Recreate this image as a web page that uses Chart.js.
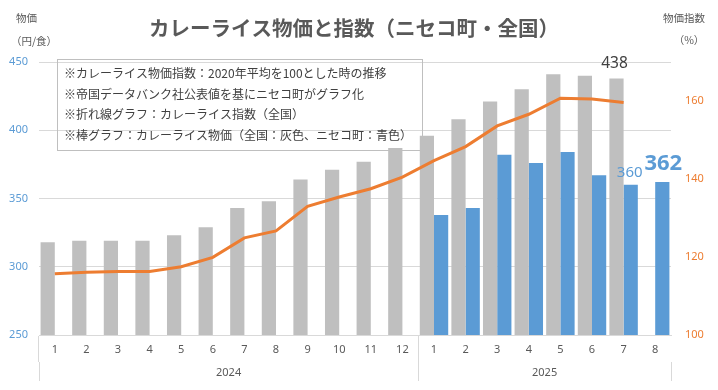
<!DOCTYPE html>
<html><head><meta charset="utf-8">
<script src="https://cdn.jsdelivr.net/npm/chart.js@4/dist/chart.umd.min.js"></script>
<style>html,body{margin:0;padding:0;background:#fff}#wrap{width:718px;height:390px;position:relative}</style>
</head><body><div id="wrap"><canvas id="c" width="718" height="390"></canvas></div>
<script>
// ---- data ----
const months = ['1','2','3','4','5','6','7','8','9','10','11','12','1','2','3','4','5','6','7','8'];
const years = ['2024','2025'];
const monthsPerYear = [12, 8];
const nationalPrice = [318,319,319,319,323,329,343,348,364,371,377,387,396,408,421,430,441,440,438,null];
const nisekoPrice = [null,null,null,null,null,null,null,null,null,null,null,null,338,343,382,376,384,367,360,362];
const curryIndex = [115.7,116.1,116.3,116.3,117.5,119.9,124.9,126.7,133.0,135.4,137.5,140.5,144.7,148.3,153.6,156.6,160.7,160.5,159.6,null];
const priceTicks = [250,300,350,400,450];
const indexTicks = [100,120,140,160];
const titleText = 'カレーライス物価と指数（ニセコ町・全国）';
const notes = [
  '※カレーライス物価指数：2020年平均を100とした時の推移',
  '※帝国データバンク社公表値を基にニセコ町がグラフ化',
  '※折れ線グラフ：カレーライス指数（全国）',
  '※棒グラフ：カレーライス物価（全国：灰色、ニセコ町：青色）'
];
const labelledNational = [18];
const labelledNiseko = [18, 19];

// year group boundaries / centres derived from monthsPerYear
const yearBounds = [-0.5];
const yearCentres = [];
monthsPerYear.forEach((n, i) => {
  const s = yearBounds[i];
  yearBounds.push(s + n);
  yearCentres.push(s + n / 2);
});

const JP = '"Noto Sans CJK JP", "Noto Sans", sans-serif';
const NUM = '"Noto Sans", "Liberation Sans", sans-serif';
const GRID = '#d9d9d9';

const decor = {
  id: 'decor',
  afterDatasetsDraw(chart) {
    const ctx = chart.ctx;
    ctx.save();
    const mN = chart.getDatasetMeta(1), mB = chart.getDatasetMeta(2);
    ctx.textAlign = 'center';
    ctx.textBaseline = 'alphabetic';
    labelledNational.forEach(i => {
      const el = mN.data[i];
      ctx.fillStyle = '#404040';
      ctx.font = '15.5px ' + NUM;
      ctx.fillText(String(nationalPrice[i]), el.x - 2, el.y - 10);
    });
    labelledNiseko.forEach((i, k) => {
      const el = mB.data[i];
      ctx.fillStyle = '#5B9BD5';
      if (k === labelledNiseko.length - 1) {
        ctx.font = 'bold 22px ' + NUM;
        ctx.fillText(String(nisekoPrice[i]), el.x + 1, el.y - 12);
      } else {
        ctx.font = '15px ' + NUM;
        ctx.fillText(String(nisekoPrice[i]), el.x - 1, el.y - 8);
      }
    });
    ctx.restore();
  },
  afterDraw(chart) {
    const ctx = chart.ctx;
    ctx.save();
    ctx.fillStyle = '#595959';
    ctx.font = 'bold 20.5px ' + JP;
    ctx.textAlign = 'center';
    ctx.textBaseline = 'middle';
    ctx.fillText(titleText, 354, 28);
    ctx.font = '10.5px ' + JP;
    ctx.textAlign = 'left';
    ctx.fillText('物価', 16, 18);
    ctx.fillText('（円/食）', 11, 41);
    ctx.fillText('物価指数', 663, 18);
    ctx.textAlign = 'center';
    ctx.fillText('（%）', 689, 40);
    ctx.strokeStyle = '#bfbfbf';
    ctx.lineWidth = 1;
    ctx.strokeRect(57.5, 59.5, 365, 91);
    ctx.fillStyle = '#404040';
    ctx.font = '12px ' + JP;
    ctx.textAlign = 'left';
    ctx.textBaseline = 'middle';
    notes.forEach((t, i) => ctx.fillText(t, 64, 73.5 + i * 20.7));
    ctx.restore();
  }
};

new Chart(document.getElementById('c'), {
  data: {
    labels: months,
    datasets: [
      { type: 'line', label: 'カレーライス指数（全国）', data: curryIndex, xAxisID: 'x', yAxisID: 'y2',
        borderColor: '#ED7D31', borderWidth: 3, pointRadius: 0, tension: 0, order: 0 },
      { type: 'bar', label: '全国', data: nationalPrice, xAxisID: 'x', yAxisID: 'y',
        backgroundColor: '#BFBFBF', categoryPercentage: 0.9, barPercentage: 1.0, order: 1 },
      { type: 'bar', label: 'ニセコ町', data: nisekoPrice, xAxisID: 'x', yAxisID: 'y',
        backgroundColor: '#5B9BD5', categoryPercentage: 0.9, barPercentage: 1.0, order: 1 }
    ]
  },
  options: {
    responsive: false,
    animation: false,
    devicePixelRatio: 1,
    layout: { padding: { top: 62, bottom: 9, left: 0, right: 0 } },
    plugins: { legend: { display: false }, tooltip: { enabled: false }, title: { display: false } },
    scales: {
      x: {
        type: 'category', position: 'bottom', weight: 0, offset: true,
        grid: { display: true, drawOnChartArea: false, drawTicks: true, tickLength: 27, offset: true,
          color: c => (c.index === 0 || c.index === 12 || c.index === 20) ? GRID : 'rgba(0,0,0,0)' },
        border: { display: true, color: GRID },
        ticks: { color: '#595959', font: { family: NUM, size: 11 }, padding: -19, maxRotation: 0, autoSkip: false },
        afterFit: s => { s.height = 27; }
      },
      x2: {
        type: 'linear', position: 'bottom', weight: 1, min: yearBounds[0], max: yearBounds[yearBounds.length - 1],
        afterBuildTicks: s => {
          s.ticks = [...yearBounds, ...yearCentres].sort((a, b) => a - b).map(v => ({ value: v }));
        },
        grid: { display: true, drawOnChartArea: false, drawTicks: true, tickLength: 19,
          color: c => (c.tick && yearBounds.includes(c.tick.value)) ? GRID : 'rgba(0,0,0,0)' },
        border: { display: false },
        ticks: { color: '#595959', font: { family: NUM, size: 11 }, padding: -15, maxRotation: 0, autoSkip: false,
          callback: v => { const k = yearCentres.indexOf(v); return k >= 0 ? years[k] : ''; } },
        afterFit: s => { s.height = 19; }
      },
      y: {
        type: 'linear', position: 'left', min: priceTicks[0], max: priceTicks[priceTicks.length - 1],
        afterBuildTicks: s => { s.ticks = priceTicks.map(v => ({ value: v })); },
        grid: { color: GRID, drawTicks: false },
        border: { display: false },
        ticks: { color: '#5B9BD5', font: { family: NUM, size: 11 }, padding: 11 },
        afterFit: s => { s.width = 39; }
      },
      y2: {
        type: 'linear', position: 'right', min: 100, max: 170,
        afterBuildTicks: s => { s.ticks = indexTicks.map(v => ({ value: v })); },
        grid: { display: false, drawTicks: false },
        border: { display: false },
        ticks: { color: '#ED7D31', font: { family: NUM, size: 11 }, padding: 14 },
        afterFit: s => { s.width = 47; }
      }
    }
  },
  plugins: [decor]
});
</script></body></html>
